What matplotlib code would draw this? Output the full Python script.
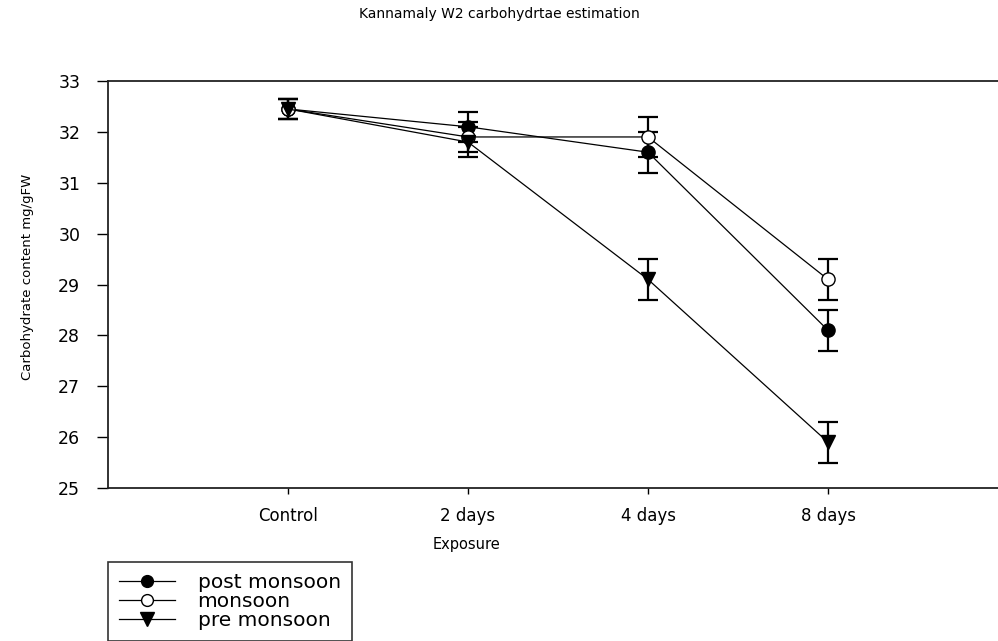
import matplotlib.pyplot as plt
from matplotlib.lines import Line2D

# exposure groups and carbohydrate content (mg/g FW)
categories = ['Control', '2 days', '4 days', '8 days']
positions = [1, 2, 3, 4]

post_monsoon = [32.45, 32.1, 31.6, 28.1]
post_err = [0.2, 0.3, 0.4, 0.4]

monsoon = [32.45, 31.9, 31.9, 29.1]
monsoon_err = [0.2, 0.3, 0.4, 0.4]

pre_monsoon = [32.45, 31.8, 29.1, 25.9]
pre_err = [0.2, 0.3, 0.4, 0.4]

fig = plt.figure(figsize=(9.98, 6.41), dpi=100)
# axis runs past the right edge of the figure
ax = fig.add_axes([108 / 998, 153 / 641, 900 / 998, 407 / 641])

series = [
    (post_monsoon, post_err, 'o', 'black', 9.5, 'post monsoon'),
    (monsoon, monsoon_err, 'o', 'white', 9.5, 'monsoon'),
    (pre_monsoon, pre_err, 'v', 'black', 10.5, 'pre monsoon'),
]

handles = []
for vals, err, mk, face, ms, name in series:
    ax.errorbar(positions, vals, yerr=err, fmt='none', ecolor='black',
                elinewidth=1.6, capsize=7, capthick=1.6, zorder=2)
    ax.plot(positions, vals, color='black', linewidth=0.9, marker=mk,
            markersize=ms, markerfacecolor=face, markeredgecolor='black',
            markeredgewidth=1.0, zorder=3)
    handles.append(Line2D([], [], color='black', linewidth=0.9, marker=mk,
                          markersize=ms - 1, markerfacecolor=face,
                          markeredgecolor='black', label=name))

ax.set_xlim(0, 5)
ax.set_ylim(25, 33)
ax.set_xticks(positions)
ax.set_xticklabels(categories)
ax.set_yticks(range(25, 34))

for side in ['top', 'bottom', 'left']:
    ax.spines[side].set_linewidth(1.3)
    ax.spines[side].set_color('#222222')
ax.spines['right'].set_visible(False)

ax.tick_params(axis='y', direction='out', length=8, width=1.0, pad=12,
               labelsize=12.5, right=False)
ax.tick_params(axis='x', direction='out', length=4.5, width=1.0, pad=9,
               labelsize=12, top=False)

fig.text(0.5, 1 - 14 / 641, 'Kannamaly W2 carbohydrtae estimation',
         ha='center', va='center', fontsize=10)
fig.text(467 / 998, 1 - 544 / 641, 'Exposure', ha='center', va='center',
         fontsize=10.5)
fig.text(28 / 998, 1 - 277 / 641, 'Carbohydrate content mg/gFW',
         rotation=90, ha='center', va='center', fontsize=9.5)

leg = fig.legend(handles=handles, loc='upper left',
                 bbox_to_anchor=(108 / 998, 1 - 562 / 641),
                 frameon=True, fancybox=False, fontsize=14.5,
                 handlelength=2.8, handletextpad=1.1, labelspacing=0.0,
                 borderpad=0.55, borderaxespad=0.0)
leg.get_frame().set_edgecolor('black')
leg.get_frame().set_linewidth(1.2)

fig.savefig('out.png', dpi=100)
